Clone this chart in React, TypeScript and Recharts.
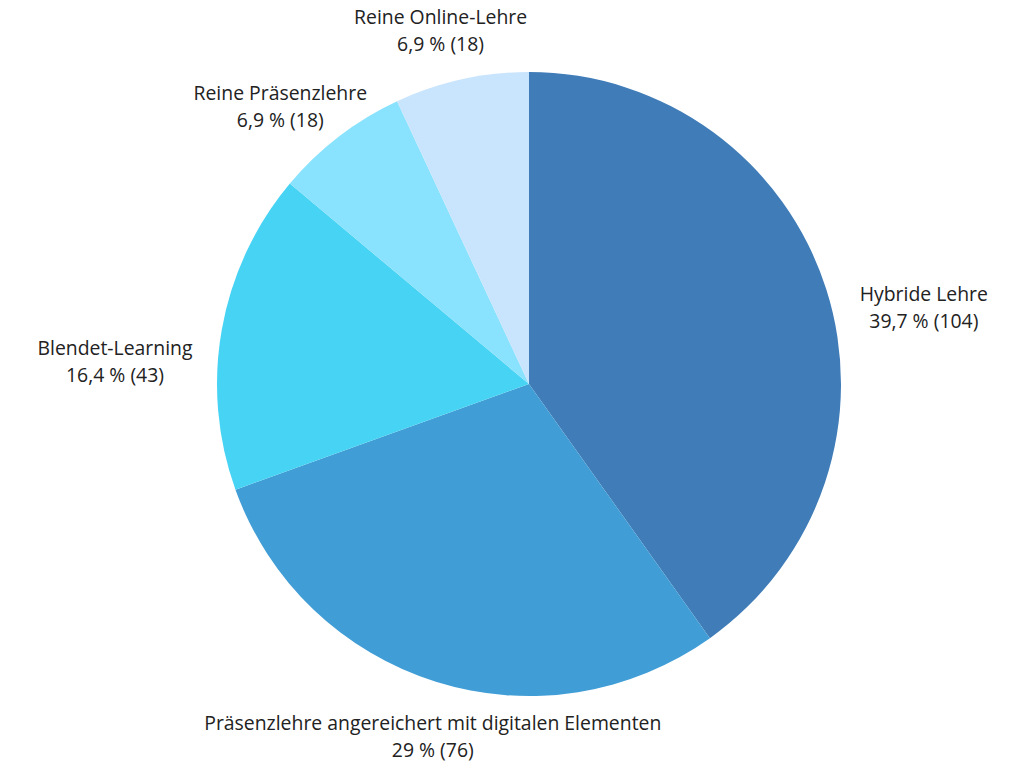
import React from "react";
import { Cell, Pie, PieChart } from "recharts";

const categories = [
  "Hybride Lehre",
  "Präsenzlehre angereichert mit digitalen Elementen",
  "Blendet-Learning",
  "Reine Präsenzlehre",
  "Reine Online-Lehre",
];
const counts = [104, 76, 43, 18, 18];
const percentLabels = ["39,7 %", "29 %", "16,4 %", "6,9 %", "6,9 %"];
const colors = ["#3f7cb8", "#409dd5", "#47d3f4", "#89e2fe", "#c9e4fd"];

const data = categories.map((name, i) => ({
  name,
  value: counts[i],
  pct: percentLabels[i],
}));

const RAD = Math.PI / 180;
const FONT = 19.4;
const FONT_FAMILY = "'Open Sans', sans-serif";
const LINE = 27;
const GAP = 25;

let ctx: CanvasRenderingContext2D | null = null;
function textWidth(s: string) {
  if (!ctx) ctx = document.createElement("canvas").getContext("2d");
  if (!ctx) return s.length * 9.4;
  ctx.font = `${FONT}px ${FONT_FAMILY}`;
  return ctx.measureText(s).width;
}

// two-line label box outside the slice; direction tilted a little downwards
// on the sides, box edge sits GAP px off the circle
function renderLabel(props: any) {
  const { cx, cy, midAngle, outerRadius, index } = props;
  const d = data[index];
  const line2 = `${d.pct} (${d.value})`;
  let theta = -midAngle * RAD;
  const tilt = 7 * Math.abs(Math.cos(theta)) * RAD;
  theta += Math.cos(theta) >= 0 ? tilt : -tilt;
  const ux = Math.cos(theta);
  const uy = Math.sin(theta);
  const w = Math.max(textWidth(d.name), textWidth(line2));
  const h = LINE * 2;
  const t = Math.min(
    Math.abs(ux) > 1e-6 ? w / 2 / Math.abs(ux) : Infinity,
    Math.abs(uy) > 1e-6 ? h / 2 / Math.abs(uy) : Infinity
  );
  const dist = outerRadius + GAP + t;
  const x = cx + dist * ux;
  const y = cy + dist * uy;
  return (
    <text x={x} y={y} textAnchor="middle" fill="#222" fontSize={FONT} fontFamily={FONT_FAMILY}>
      <tspan x={x} y={y - 6}>
        {d.name}
      </tspan>
      <tspan x={x} y={y - 6 + LINE}>
        {line2}
      </tspan>
    </text>
  );
}

export default function App() {
  return (
    <div style={{ width: 1024, height: 768, background: "#fff" }}>
      <style>{`body{margin:0}`}</style>
      <PieChart width={1024} height={768} margin={{ top: 0, right: 0, bottom: 0, left: 0 }}>
        <Pie
          data={data}
          dataKey="value"
          nameKey="name"
          cx={529}
          cy={384}
          outerRadius={312}
          startAngle={90}
          endAngle={-270}
          stroke="none"
          label={renderLabel}
          labelLine={false}
          isAnimationActive={false}
        >
          {data.map((d, i) => (
            <Cell key={d.name} fill={colors[i]} />
          ))}
        </Pie>
      </PieChart>
    </div>
  );
}
